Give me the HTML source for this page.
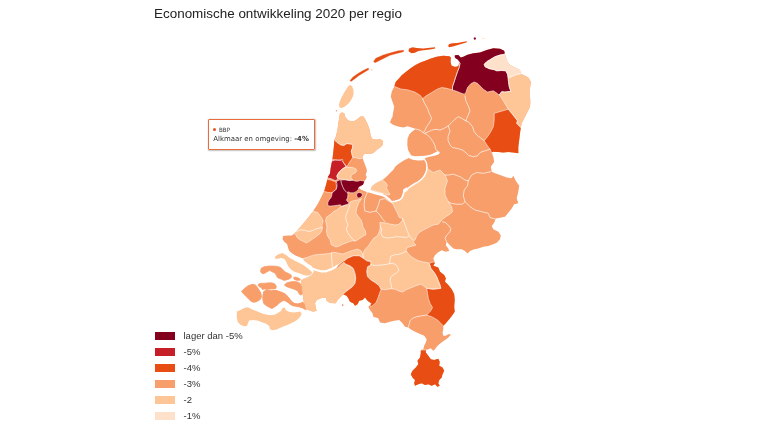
<!DOCTYPE html>
<html lang="nl"><head><meta charset="utf-8"><title>Economische ontwikkeling 2020 per regio</title>
<style>
html,body{margin:0;padding:0;background:#fff}
body{width:768px;height:432px;position:relative;overflow:hidden;font-family:"Liberation Sans",Arial,sans-serif;color:#333}
.title{position:absolute;left:154px;top:5.7px;font-size:13.45px;color:#222;white-space:nowrap;letter-spacing:0px}
.sw{position:absolute;left:155px;width:20px;height:8px}
.lt{position:absolute;left:183.5px;font-size:9.5px;line-height:13px;color:#333;white-space:nowrap}
.tip{position:absolute;left:208px;top:118.5px;width:104.8px;height:29.5px;border:1px solid #ea6c3b;border-radius:1px;background:rgba(255,255,255,.92);box-shadow:0.5px 0.5px 1.5px rgba(0,0,0,.25)}
.tip .h{position:absolute;left:4.4px;top:6px;font-size:5.7px;line-height:8px;color:#333;font-family:"DejaVu Sans","Liberation Sans",sans-serif;white-space:nowrap}
.tip .h i{display:inline-block;width:3px;height:3px;border-radius:50%;background:#e8501a;margin-right:2.5px;vertical-align:1px}
.tip .b{position:absolute;left:4.3px;top:14.9px;font-size:6.95px;line-height:10px;color:#333;font-family:"DejaVu Sans","Liberation Sans",sans-serif;white-space:nowrap}
</style></head><body>
<svg width="768" height="432" viewBox="0 0 768 432" style="position:absolute;left:0;top:0"><defs><clipPath id="land"><path d="M340.0 113.3 L342.3 112.6 L344.2 113.3 L345.4 117.2 L348.3 120.6 L351.8 121.6 L354.5 121.0 L357.8 118.8 L360.6 116.6 L363.5 116.6 L365.6 120.0 L367.5 124.0 L368.7 127.0 L370.0 131.0 L370.6 136.0 L372.5 139.1 L376.3 139.8 L380.0 139.1 L382.5 140.4 L383.1 143.5 L381.9 146.0 L379.4 147.9 L376.9 149.8 L374.4 152.3 L371.3 154.1 L368.1 154.1 L365.0 153.5 L363.1 155.4 L362.5 157.9 L363.8 161.6 L365.0 164.8 L366.5 168.5 L366.9 171.6 L365.6 174.8 L366.9 176.9 L365.6 179.4 L364.4 181.3 L363.1 184.4 L360.6 186.3 L358.8 187.5 L360.6 189.4 L365.0 191.3 L368.1 192.5 L371.0 189.5 L371.9 186.3 L375.0 183.8 L379.4 181.3 L383.1 179.4 L386.9 176.3 L390.0 173.1 L393.1 170.0 L395.6 166.3 L398.8 163.8 L402.5 161.3 L405.0 159.8 L407.5 158.8 L409.0 157.0 L410.6 154.4 L408.1 150.0 L407.3 145.0 L407.5 138.8 L409.4 134.2 L412.1 131.6 L415.8 129.0 L411.6 127.4 L407.5 126.2 L403.5 127.5 L398.0 126.6 L393.0 124.8 L390.0 122.5 L390.8 120.0 L392.5 116.7 L393.3 111.7 L394.2 106.7 L392.5 101.7 L390.8 96.7 L391.7 91.7 L394.2 86.7 L395.8 81.7 L399.2 78.3 L401.7 75.3 L406.4 71.4 L410.6 68.3 L415.5 65.0 L420.4 62.5 L425.3 60.7 L430.2 58.8 L436.7 56.7 L443.3 55.8 L449.2 56.2 L451.3 57.5 L450.8 60.0 L451.7 64.2 L453.3 65.8 L454.5 63.0 L454.2 59.0 L454.2 56.7 L455.0 55.3 L458.3 55.0 L460.8 57.5 L463.3 56.7 L467.5 54.7 L473.3 53.3 L480.0 52.5 L486.7 50.0 L493.3 48.3 L500.0 48.7 L504.2 50.8 L505.0 54.2 L505.8 57.5 L507.5 61.7 L510.0 65.0 L515.0 67.5 L520.0 70.0 L520.8 73.7 L528.3 77.5 L530.8 81.7 L530.0 88.3 L530.0 96.7 L530.3 101.7 L530.0 106.7 L527.5 111.7 L525.0 116.7 L521.7 123.3 L520.8 127.5 L520.0 133.3 L519.2 140.0 L518.3 146.7 L518.3 153.3 L513.3 152.5 L508.3 152.0 L503.3 152.5 L498.3 152.0 L493.3 151.7 L491.7 152.5 L493.3 156.7 L494.2 161.7 L490.8 166.7 L491.7 171.7 L495.0 173.3 L500.0 175.0 L506.7 177.5 L511.7 178.3 L513.3 175.8 L515.8 180.8 L519.2 185.8 L518.3 191.7 L516.7 198.3 L518.3 203.3 L514.2 204.3 L511.7 208.5 L508.3 212.7 L505.0 216.8 L500.0 217.7 L495.8 218.5 L494.2 222.7 L491.7 226.0 L493.3 229.3 L498.3 231.8 L500.8 235.2 L500.0 239.3 L496.7 242.7 L493.3 244.3 L488.3 246.0 L483.3 246.8 L478.3 248.5 L474.2 249.3 L470.0 251.0 L467.5 253.5 L465.0 251.0 L461.7 249.3 L456.7 249.3 L453.3 248.5 L450.0 245.2 L446.7 241.8 L445.8 245.2 L448.3 248.5 L449.2 251.0 L445.8 251.8 L441.7 250.2 L437.5 252.7 L435.0 255.2 L433.3 258.5 L435.0 262.7 L433.3 265.8 L438.3 267.5 L440.0 271.7 L444.2 275.0 L445.8 278.3 L445.0 281.7 L448.3 285.0 L451.7 289.2 L454.2 294.2 L454.7 300.0 L454.2 306.7 L454.7 311.7 L452.5 315.0 L449.2 319.2 L445.8 323.3 L443.3 325.8 L443.3 329.2 L442.5 332.5 L443.3 335.8 L445.8 335.8 L448.3 334.2 L450.8 334.2 L450.0 335.8 L447.5 338.3 L445.0 340.0 L442.5 341.7 L439.2 344.2 L436.7 346.7 L435.0 349.2 L433.3 350.8 L430.8 348.3 L428.3 349.2 L425.8 350.0 L425.8 352.5 L428.3 355.8 L430.8 359.2 L434.2 360.0 L438.3 358.7 L439.7 361.7 L439.2 365.8 L442.5 367.5 L444.2 370.8 L442.5 374.2 L441.7 377.5 L439.2 380.0 L438.3 383.3 L439.7 385.8 L437.5 386.7 L435.0 384.2 L431.7 385.8 L428.3 384.2 L425.0 385.0 L421.7 383.3 L418.3 384.2 L415.0 385.8 L414.2 383.3 L415.0 380.0 L412.5 377.5 L410.8 374.2 L412.5 370.8 L415.8 367.5 L418.3 364.2 L417.5 360.8 L420.0 357.5 L420.8 353.3 L420.8 350.0 L423.3 349.2 L424.2 345.8 L425.8 342.5 L426.7 339.2 L424.2 335.8 L420.8 334.2 L416.7 332.5 L411.7 330.0 L408.3 327.5 L405.0 326.7 L402.5 323.3 L399.2 320.0 L394.2 320.8 L390.0 321.7 L385.0 323.3 L380.0 322.5 L378.3 318.3 L373.3 316.7 L372.5 313.3 L370.0 310.0 L368.3 306.7 L371.7 303.8 L367.5 300.8 L365.0 297.5 L362.5 300.0 L359.2 300.8 L357.5 304.2 L355.0 305.8 L353.3 303.3 L350.0 301.7 L348.3 298.3 L346.7 295.8 L343.3 294.5 L340.0 297.5 L337.5 300.0 L335.8 303.3 L330.0 303.0 L326.7 300.8 L325.8 297.5 L320.8 298.3 L316.7 300.0 L315.0 303.3 L315.8 308.3 L316.7 310.8 L313.3 311.7 L308.3 310.0 L305.0 309.2 L304.4 305.0 L303.5 300.0 L302.7 295.0 L301.9 290.0 L301.2 285.0 L300.8 281.0 L303.0 279.0 L308.0 277.0 L312.0 274.5 L314.0 272.0 L313.0 268.0 L311.3 265.6 L308.0 263.5 L304.7 261.0 L303.0 258.5 L299.7 257.3 L295.5 255.6 L292.2 253.5 L289.3 251.0 L288.0 247.7 L287.2 244.3 L284.3 241.8 L282.6 239.3 L283.0 236.0 L288.0 235.5 L291.9 235.4 L296.3 231.6 L302.3 224.8 L308.5 217.3 L313.2 211.0 L318.0 203.5 L321.8 196.0 L324.3 190.8 L326.5 183.0 L328.1 176.6 L330.0 173.5 L330.6 168.5 L331.5 163.5 L332.5 159.1 L333.1 153.5 L333.8 147.3 L334.4 139.8 L335.8 136.7 L337.5 130.0 L338.3 123.3 L339.2 118.3Z"/></clipPath></defs><path d="M340.0 113.3 L342.3 112.6 L344.2 113.3 L345.4 117.2 L348.3 120.6 L351.8 121.6 L354.5 121.0 L357.8 118.8 L360.6 116.6 L363.5 116.6 L365.6 120.0 L367.5 124.0 L368.7 127.0 L370.0 131.0 L370.6 136.0 L372.5 139.1 L376.3 139.8 L380.0 139.1 L382.5 140.4 L383.1 143.5 L381.9 146.0 L379.4 147.9 L376.9 149.8 L374.4 152.3 L371.3 154.1 L368.1 154.1 L365.0 153.5 L363.1 155.4 L362.5 157.9 L363.8 161.6 L365.0 164.8 L366.5 168.5 L366.9 171.6 L365.6 174.8 L366.9 176.9 L365.6 179.4 L364.4 181.3 L363.1 184.4 L360.6 186.3 L358.8 187.5 L360.6 189.4 L365.0 191.3 L368.1 192.5 L371.0 189.5 L371.9 186.3 L375.0 183.8 L379.4 181.3 L383.1 179.4 L386.9 176.3 L390.0 173.1 L393.1 170.0 L395.6 166.3 L398.8 163.8 L402.5 161.3 L405.0 159.8 L407.5 158.8 L409.0 157.0 L410.6 154.4 L408.1 150.0 L407.3 145.0 L407.5 138.8 L409.4 134.2 L412.1 131.6 L415.8 129.0 L411.6 127.4 L407.5 126.2 L403.5 127.5 L398.0 126.6 L393.0 124.8 L390.0 122.5 L390.8 120.0 L392.5 116.7 L393.3 111.7 L394.2 106.7 L392.5 101.7 L390.8 96.7 L391.7 91.7 L394.2 86.7 L395.8 81.7 L399.2 78.3 L401.7 75.3 L406.4 71.4 L410.6 68.3 L415.5 65.0 L420.4 62.5 L425.3 60.7 L430.2 58.8 L436.7 56.7 L443.3 55.8 L449.2 56.2 L451.3 57.5 L450.8 60.0 L451.7 64.2 L453.3 65.8 L454.5 63.0 L454.2 59.0 L454.2 56.7 L455.0 55.3 L458.3 55.0 L460.8 57.5 L463.3 56.7 L467.5 54.7 L473.3 53.3 L480.0 52.5 L486.7 50.0 L493.3 48.3 L500.0 48.7 L504.2 50.8 L505.0 54.2 L505.8 57.5 L507.5 61.7 L510.0 65.0 L515.0 67.5 L520.0 70.0 L520.8 73.7 L528.3 77.5 L530.8 81.7 L530.0 88.3 L530.0 96.7 L530.3 101.7 L530.0 106.7 L527.5 111.7 L525.0 116.7 L521.7 123.3 L520.8 127.5 L520.0 133.3 L519.2 140.0 L518.3 146.7 L518.3 153.3 L513.3 152.5 L508.3 152.0 L503.3 152.5 L498.3 152.0 L493.3 151.7 L491.7 152.5 L493.3 156.7 L494.2 161.7 L490.8 166.7 L491.7 171.7 L495.0 173.3 L500.0 175.0 L506.7 177.5 L511.7 178.3 L513.3 175.8 L515.8 180.8 L519.2 185.8 L518.3 191.7 L516.7 198.3 L518.3 203.3 L514.2 204.3 L511.7 208.5 L508.3 212.7 L505.0 216.8 L500.0 217.7 L495.8 218.5 L494.2 222.7 L491.7 226.0 L493.3 229.3 L498.3 231.8 L500.8 235.2 L500.0 239.3 L496.7 242.7 L493.3 244.3 L488.3 246.0 L483.3 246.8 L478.3 248.5 L474.2 249.3 L470.0 251.0 L467.5 253.5 L465.0 251.0 L461.7 249.3 L456.7 249.3 L453.3 248.5 L450.0 245.2 L446.7 241.8 L445.8 245.2 L448.3 248.5 L449.2 251.0 L445.8 251.8 L441.7 250.2 L437.5 252.7 L435.0 255.2 L433.3 258.5 L435.0 262.7 L433.3 265.8 L438.3 267.5 L440.0 271.7 L444.2 275.0 L445.8 278.3 L445.0 281.7 L448.3 285.0 L451.7 289.2 L454.2 294.2 L454.7 300.0 L454.2 306.7 L454.7 311.7 L452.5 315.0 L449.2 319.2 L445.8 323.3 L443.3 325.8 L443.3 329.2 L442.5 332.5 L443.3 335.8 L445.8 335.8 L448.3 334.2 L450.8 334.2 L450.0 335.8 L447.5 338.3 L445.0 340.0 L442.5 341.7 L439.2 344.2 L436.7 346.7 L435.0 349.2 L433.3 350.8 L430.8 348.3 L428.3 349.2 L425.8 350.0 L425.8 352.5 L428.3 355.8 L430.8 359.2 L434.2 360.0 L438.3 358.7 L439.7 361.7 L439.2 365.8 L442.5 367.5 L444.2 370.8 L442.5 374.2 L441.7 377.5 L439.2 380.0 L438.3 383.3 L439.7 385.8 L437.5 386.7 L435.0 384.2 L431.7 385.8 L428.3 384.2 L425.0 385.0 L421.7 383.3 L418.3 384.2 L415.0 385.8 L414.2 383.3 L415.0 380.0 L412.5 377.5 L410.8 374.2 L412.5 370.8 L415.8 367.5 L418.3 364.2 L417.5 360.8 L420.0 357.5 L420.8 353.3 L420.8 350.0 L423.3 349.2 L424.2 345.8 L425.8 342.5 L426.7 339.2 L424.2 335.8 L420.8 334.2 L416.7 332.5 L411.7 330.0 L408.3 327.5 L405.0 326.7 L402.5 323.3 L399.2 320.0 L394.2 320.8 L390.0 321.7 L385.0 323.3 L380.0 322.5 L378.3 318.3 L373.3 316.7 L372.5 313.3 L370.0 310.0 L368.3 306.7 L371.7 303.8 L367.5 300.8 L365.0 297.5 L362.5 300.0 L359.2 300.8 L357.5 304.2 L355.0 305.8 L353.3 303.3 L350.0 301.7 L348.3 298.3 L346.7 295.8 L343.3 294.5 L340.0 297.5 L337.5 300.0 L335.8 303.3 L330.0 303.0 L326.7 300.8 L325.8 297.5 L320.8 298.3 L316.7 300.0 L315.0 303.3 L315.8 308.3 L316.7 310.8 L313.3 311.7 L308.3 310.0 L305.0 309.2 L304.4 305.0 L303.5 300.0 L302.7 295.0 L301.9 290.0 L301.2 285.0 L300.8 281.0 L303.0 279.0 L308.0 277.0 L312.0 274.5 L314.0 272.0 L313.0 268.0 L311.3 265.6 L308.0 263.5 L304.7 261.0 L303.0 258.5 L299.7 257.3 L295.5 255.6 L292.2 253.5 L289.3 251.0 L288.0 247.7 L287.2 244.3 L284.3 241.8 L282.6 239.3 L283.0 236.0 L288.0 235.5 L291.9 235.4 L296.3 231.6 L302.3 224.8 L308.5 217.3 L313.2 211.0 L318.0 203.5 L321.8 196.0 L324.3 190.8 L326.5 183.0 L328.1 176.6 L330.0 173.5 L330.6 168.5 L331.5 163.5 L332.5 159.1 L333.1 153.5 L333.8 147.3 L334.4 139.8 L335.8 136.7 L337.5 130.0 L338.3 123.3 L339.2 118.3Z" fill="#f79e6b"/><g clip-path="url(#land)"><path d="M390.0 86.0 L393.9 86.2 L400.8 89.0 L407.8 89.9 L414.7 92.0 L420.3 95.4 L422.6 98.7 L425.8 96.1 L431.4 92.7 L436.7 89.4 L441.7 87.5 L446.7 88.3 L452.5 90.0 L452.5 86.7 L454.2 81.7 L455.8 76.7 L457.5 71.7 L459.2 67.5 L460.0 63.3 L458.3 60.8 L455.0 59.2 L453.0 50.0 L440.0 48.0 L400.0 60.0 L388.0 80.0Z" fill="#e84e13"/><path d="M455.0 52.0 L458.3 52.0 L460.8 53.5 L463.3 52.7 L467.5 50.7 L473.3 49.3 L480.0 48.5 L486.7 46.0 L493.3 44.3 L500.0 44.7 L506.0 47.0 L505.0 54.2 L500.0 55.0 L495.0 56.7 L490.8 59.2 L486.7 61.7 L484.2 64.2 L485.0 66.7 L489.2 68.7 L494.2 69.7 L496.7 70.8 L501.7 70.5 L505.8 70.8 L507.5 74.2 L508.3 80.0 L509.2 86.7 L510.8 91.3 L505.0 92.0 L501.7 91.7 L499.2 95.0 L496.7 93.0 L493.3 90.8 L487.5 92.0 L483.3 89.2 L480.0 85.8 L477.5 83.3 L474.2 82.0 L470.8 83.7 L467.5 87.5 L465.8 92.5 L464.2 94.2 L460.8 93.0 L456.7 91.3 L452.5 90.0 L452.5 86.7 L454.2 81.7 L455.8 76.7 L457.5 71.7 L459.2 67.5 L460.0 63.3 L458.3 60.8 L455.0 59.2 L453.5 56.7Z" fill="#84001f"/><path d="M505.0 54.2 L500.0 55.0 L495.0 56.7 L490.8 59.2 L486.7 61.7 L484.2 64.2 L485.0 66.7 L489.2 68.7 L494.2 69.7 L496.7 70.8 L501.7 70.5 L505.8 70.8 L507.5 74.2 L508.3 78.0 L511.0 77.0 L515.0 75.0 L520.8 73.7 L526.0 70.0 L515.0 58.0 L508.0 48.0Z" fill="#fee1ca"/><path d="M508.3 78.0 L508.3 80.0 L509.2 86.7 L510.8 91.3 L505.0 92.0 L501.7 91.7 L499.2 95.0 L500.8 96.7 L503.3 100.8 L505.8 105.0 L508.3 109.2 L511.7 113.3 L515.0 117.5 L517.5 120.8 L516.7 123.3 L520.8 127.5 L536.0 128.0 L536.0 72.0 L520.8 73.7 L515.0 75.0 L511.0 77.0Z" fill="#fec596"/><path d="M494.2 113.3 L508.3 109.2 L511.7 113.3 L515.0 117.5 L517.5 120.8 L516.7 123.3 L520.8 127.5 L525.0 127.5 L523.0 157.0 L493.3 156.0 L490.0 149.2 L487.5 145.8 L484.2 140.8 L487.5 136.7 L490.8 131.7 L493.3 126.7 L494.2 120.0Z" fill="#e84e13"/><path d="M330.0 139.8 L334.4 139.8 L336.9 142.3 L340.6 144.8 L343.8 145.4 L346.9 143.5 L351.3 144.1 L352.8 145.4 L352.3 148.5 L351.3 151.0 L351.9 154.1 L352.8 157.3 L356.3 157.9 L360.0 158.8 L362.5 157.9 L366.0 157.0 L390.0 145.0 L375.0 110.0 L338.0 108.0 L330.0 120.0Z" fill="#fec596"/><path d="M328.0 139.8 L334.4 139.8 L336.9 142.3 L340.6 144.8 L343.8 145.4 L346.9 143.5 L351.3 144.1 L352.8 145.4 L352.3 148.5 L351.3 151.0 L351.9 154.1 L352.8 157.3 L351.3 159.8 L349.4 162.3 L348.1 164.8 L346.9 166.6 L345.0 164.8 L343.1 162.3 L341.3 160.4 L337.5 160.4 L334.4 159.8 L328.0 159.1Z" fill="#e84e13"/><path d="M326.0 160.5 L332.2 161.0 L335.5 159.8 L339.7 159.8 L342.6 159.3 L343.0 161.8 L344.7 164.3 L345.9 166.8 L343.0 168.5 L340.5 170.6 L338.4 173.1 L336.8 176.0 L337.6 178.5 L336.3 180.6 L334.3 180.2 L331.8 178.9 L328.8 178.1 L324.0 178.0Z" fill="#c71f27"/><path d="M321.0 178.0 L327.4 179.3 L331.2 180.2 L334.9 181.4 L337.0 183.5 L337.0 186.8 L336.2 189.3 L334.5 191.0 L332.8 192.3 L330.8 192.7 L327.4 192.3 L324.5 191.4 L320.0 191.0Z" fill="#e84e13"/><path d="M343.0 168.5 L345.9 166.8 L349.7 167.3 L353.0 167.7 L355.5 168.5 L356.8 170.6 L355.5 172.7 L353.0 173.9 L351.3 175.6 L350.9 177.7 L353.0 180.2 L350.9 180.6 L347.2 180.2 L343.0 179.3 L339.3 178.5 L337.6 178.1 L336.8 176.0 L338.4 173.1 L340.5 170.6Z" fill="#fec596"/><path d="M368.0 188.0 L371.9 186.0 L376.3 182.5 L382.5 180.0 L385.6 182.5 L387.5 185.6 L386.3 187.5 L388.1 191.3 L390.0 194.4 L387.5 195.0 L382.5 193.1 L377.5 191.9 L373.1 190.0 L370.0 191.0Z" fill="#fec596"/><path d="M420.8 350.0 L425.8 350.0 L430.0 352.0 L446.0 360.0 L446.0 388.0 L408.0 388.0 L408.0 365.0 L417.0 356.0Z" fill="#e84e13"/><path d="M298.0 279.0 L303.0 279.0 L308.0 277.0 L312.0 274.5 L311.0 268.1 L316.0 270.0 L321.0 271.3 L326.0 271.3 L331.0 269.4 L334.8 267.5 L338.0 265.0 L343.3 261.7 L345.8 264.2 L350.0 265.8 L353.3 268.3 L355.0 273.3 L355.8 278.3 L355.0 283.3 L352.5 286.7 L349.2 289.2 L345.8 291.7 L343.3 294.2 L343.3 298.0 L335.0 306.0 L320.0 312.0 L303.0 312.0 L302.0 295.0Z" fill="#fec596"/><path d="M427.0 167.0 L426.7 168.3 L433.3 172.5 L440.0 170.0 L445.0 175.0 L447.5 180.8 L445.0 188.3 L445.0 195.0 L448.3 201.7 L451.7 206.7 L452.5 211.7 L450.0 214.2 L445.8 216.7 L441.7 220.0 L438.3 224.2 L433.3 225.0 L428.3 227.5 L423.3 230.0 L419.2 232.5 L416.6 235.8 L415.4 239.5 L412.9 242.0 L416.0 245.1 L411.0 246.4 L407.3 247.6 L406.0 250.1 L407.9 253.3 L411.0 256.4 L414.8 258.9 L418.5 260.8 L423.5 262.0 L427.5 262.5 L429.2 263.3 L430.8 268.3 L434.2 272.5 L436.7 276.7 L438.3 280.8 L440.0 285.0 L440.8 288.3 L433.3 289.2 L426.7 288.3 L423.3 285.8 L420.8 284.2 L415.8 285.8 L411.7 287.5 L406.7 289.5 L402.5 292.0 L399.2 291.2 L395.8 289.5 L391.7 288.7 L385.0 289.7 L380.8 289.2 L379.2 285.8 L375.0 282.5 L370.8 280.0 L367.5 276.7 L366.7 271.7 L367.5 266.7 L370.8 265.0 L370.8 261.7 L366.7 260.8 L363.3 258.3 L362.9 255.1 L363.5 252.0 L365.4 248.9 L368.5 245.8 L371.0 242.0 L373.5 238.3 L377.3 235.8 L379.1 232.0 L380.4 227.0 L379.8 222.3 L385.8 223.0 L390.0 224.0 L395.0 225.0 L398.3 224.5 L400.3 222.8 L402.2 220.5 L402.5 218.3 L399.2 217.5 L397.5 213.3 L395.0 208.3 L392.5 203.3 L394.0 201.5 L398.0 200.5 L401.5 198.0 L403.0 194.5 L406.0 190.0 L410.0 187.5 L414.0 185.0 L418.5 182.5 L422.0 179.5 L424.5 175.5 L426.5 171.0Z" fill="#fec596"/><path d="M302.0 212.0 L310.0 212.3 L313.8 211.6 L317.5 212.3 L321.3 217.3 L323.1 221.0 L321.9 225.4 L322.5 227.9 L321.9 230.4 L320.0 233.5 L316.3 236.6 L312.5 239.1 L308.8 241.6 L306.3 242.9 L303.8 241.6 L300.0 239.8 L296.9 237.3 L295.6 234.1 L290.0 233.0Z" fill="#fec596"/><path d="M326.3 217.3 L330.0 214.8 L333.5 211.5 L337.3 209.8 L339.8 207.3 L342.9 206.0 L346.0 204.8 L349.0 203.5 L351.0 201.6 L354.8 200.4 L358.5 199.8 L361.6 198.5 L358.5 203.5 L356.6 208.5 L356.0 212.9 L357.9 216.0 L361.0 219.8 L362.3 223.5 L362.9 227.0 L365.4 230.8 L366.0 234.5 L362.9 236.4 L359.1 238.9 L356.0 240.8 L352.3 240.8 L348.5 242.0 L343.5 243.9 L339.8 245.8 L336.0 247.0 L331.3 244.8 L330.0 239.8 L327.5 236.0 L326.3 231.0 L327.0 227.0 L325.6 221.0Z" fill="#fec596"/><path d="M302.0 262.0 L303.0 258.5 L307.5 257.3 L312.5 255.4 L317.5 254.5 L323.8 254.1 L328.8 253.5 L333.8 252.3 L337.5 252.9 L342.5 254.1 L347.5 252.3 L352.5 250.4 L357.5 249.1 L361.3 251.0 L363.1 255.4 L363.3 258.3 L359.2 255.8 L353.3 255.8 L347.5 258.3 L343.3 261.7 L338.0 265.0 L334.8 267.5 L331.0 269.4 L326.0 271.3 L321.0 271.3 L316.0 270.0 L311.0 268.1 L306.0 270.0Z" fill="#fec596"/><path d="M336.9 181.2 L336.1 183.3 L336.1 183.4 L336.1 183.4 L336.1 183.5 L336.1 183.5 L336.1 183.6 L336.5 186.0 L336.1 189.1 L334.6 190.6 L332.5 191.9 L332.5 191.9 L332.5 191.9 L332.4 192.0 L332.4 192.0 L332.4 192.0 L332.3 192.1 L332.3 192.1 L332.3 192.2 L332.3 192.2 L331.9 194.7 L331.1 197.5 L329.1 199.9 L329.1 199.9 L329.1 199.9 L329.0 200.0 L327.8 202.5 L327.8 202.5 L327.8 202.6 L327.8 202.6 L327.8 202.7 L327.8 202.7 L327.8 205.2 L327.8 205.2 L327.8 205.3 L327.8 205.3 L327.8 205.4 L327.9 205.4 L327.9 205.5 L327.9 205.5 L327.9 205.6 L328.0 205.6 L328.0 205.6 L328.1 205.6 L328.1 205.7 L328.2 205.7 L328.2 205.7 L330.2 206.1 L330.3 206.1 L330.3 206.1 L330.4 206.1 L333.8 205.7 L333.8 205.7 L337.1 205.3 L337.1 205.3 L340.2 204.8 L341.7 206.0 L341.7 206.0 L341.8 206.0 L341.8 206.1 L341.9 206.1 L341.9 206.1 L342.0 206.1 L342.0 206.1 L342.1 206.1 L342.1 206.1 L342.2 206.1 L344.6 205.3 L347.1 204.8 L347.1 204.8 L347.2 204.8 L347.2 204.7 L347.3 204.7 L349.0 203.5 L349.0 203.5 L349.1 203.4 L349.1 203.4 L349.1 203.4 L349.1 203.3 L349.2 203.3 L349.2 203.2 L349.2 203.2 L349.2 203.1 L349.2 203.1 L349.2 203.0 L349.2 203.0 L349.2 202.9 L349.2 202.9 L349.1 202.9 L349.1 202.8 L349.1 202.8 L349.0 202.7 L349.0 202.7 L347.4 201.4 L346.4 200.1 L347.5 197.9 L347.5 197.9 L347.5 197.8 L347.5 197.8 L347.9 194.4 L347.9 194.3 L347.9 194.3 L347.9 194.2 L347.9 194.2 L347.9 194.1 L347.2 192.3 L348.7 191.9 L350.6 192.8 L350.7 192.8 L350.7 192.8 L350.7 192.8 L350.8 192.8 L353.7 192.8 L353.7 192.8 L353.8 192.8 L353.8 192.8 L353.9 192.8 L353.9 192.7 L356.4 191.4 L356.5 191.4 L356.5 191.4 L356.6 191.3 L358.2 189.6 L358.2 189.6 L358.2 189.6 L358.3 189.5 L358.3 189.5 L358.3 189.4 L358.7 187.6 L360.1 186.4 L362.6 185.7 L362.6 185.7 L362.6 185.6 L362.7 185.6 L362.7 185.6 L362.8 185.6 L362.8 185.5 L364.5 183.4 L364.5 183.4 L364.5 183.3 L364.6 183.3 L364.6 183.2 L364.6 183.2 L364.6 183.1 L364.6 183.1 L364.6 183.0 L364.6 183.0 L364.2 181.3 L364.2 181.2 L364.2 181.2 L364.1 181.1 L364.1 181.1 L364.1 181.1 L364.0 181.0 L364.0 181.0 L364.0 181.0 L363.9 180.9 L363.9 180.9 L363.8 180.9 L363.8 180.9 L360.4 180.5 L360.3 180.5 L360.3 180.5 L360.2 180.5 L360.2 180.5 L357.4 181.3 L354.6 180.9 L352.2 180.1 L352.1 180.1 L352.1 180.1 L352.0 180.1 L352.0 180.1 L351.9 180.1 L349.5 180.5 L345.4 179.7 L345.3 179.7 L345.3 179.7 L345.2 179.7 L341.6 180.1 L340.4 179.7 L340.4 179.7 L340.4 179.7 L340.3 179.7 L340.3 179.7 L340.2 179.7 L340.2 179.7 L340.1 179.7 L337.2 180.9 L337.2 181.0 L337.1 181.0 L337.1 181.0 L337.0 181.1 L337.0 181.1 L337.0 181.1 L337.0 181.2Z" fill="#84001f"/><path d="M356.7 193.9 L356.7 196.0 L356.7 196.0 L356.7 196.1 L356.7 196.1 L356.7 196.1 L356.7 196.1 L356.7 196.2 L356.8 196.2 L358.1 197.9 L358.1 197.9 L358.1 197.9 L358.1 197.9 L358.2 198.0 L358.2 198.0 L358.2 198.0 L358.2 198.0 L358.3 198.0 L358.3 198.0 L358.3 198.0 L358.4 198.0 L360.4 197.6 L360.4 197.6 L360.4 197.6 L360.4 197.6 L360.5 197.5 L360.5 197.5 L360.5 197.5 L360.5 197.5 L362.2 195.4 L362.3 195.4 L362.3 195.3 L362.3 195.3 L362.3 195.3 L362.3 195.3 L362.3 195.2 L362.3 195.2 L362.3 195.2 L362.3 195.1 L361.9 193.4 L361.9 193.4 L361.9 193.4 L361.9 193.3 L361.8 193.3 L361.8 193.3 L361.8 193.3 L361.8 193.3 L361.7 193.2 L361.7 193.2 L361.7 193.2 L359.2 192.4 L359.2 192.4 L359.1 192.4 L359.1 192.4 L359.1 192.4 L359.0 192.4 L359.0 192.4 L359.0 192.4 L359.0 192.4 L356.9 193.6 L356.8 193.7 L356.8 193.7 L356.8 193.7 L356.8 193.7 L356.7 193.7 L356.7 193.8 L356.7 193.8 L356.7 193.8 L356.7 193.8 L356.7 193.9Z" fill="#84001f"/><path d="M343.1 261.9 L345.6 264.4 L345.6 264.4 L345.6 264.5 L345.7 264.5 L345.7 264.5 L349.9 266.1 L353.0 268.5 L354.7 273.4 L355.5 278.3 L354.7 283.2 L352.3 286.5 L349.0 289.0 L345.6 291.5 L345.6 291.5 L345.6 291.5 L343.1 294.0 L343.1 294.0 L343.1 294.0 L343.0 294.1 L343.0 294.1 L343.0 294.1 L343.0 294.1 L343.0 294.2 L343.0 294.2 L343.0 297.0 L343.0 297.0 L343.0 297.1 L343.0 297.1 L343.0 297.1 L343.0 297.1 L343.0 297.2 L343.1 297.2 L343.1 297.2 L354.8 309.2 L354.8 309.2 L354.8 309.2 L354.9 309.3 L354.9 309.3 L354.9 309.3 L354.9 309.3 L355.0 309.3 L355.0 309.3 L355.0 309.3 L355.1 309.3 L355.1 309.3 L355.1 309.3 L355.1 309.3 L355.2 309.2 L362.6 304.3 L365.0 303.3 L371.6 306.3 L371.6 306.3 L371.6 306.3 L371.7 306.3 L371.7 306.3 L371.7 306.3 L371.8 306.3 L371.8 306.3 L371.8 306.3 L371.8 306.3 L371.9 306.2 L371.9 306.2 L376.0 302.7 L376.0 302.7 L376.0 302.7 L376.1 302.7 L376.1 302.6 L376.1 302.6 L377.8 298.4 L377.8 298.4 L379.5 293.4 L381.1 289.3 L381.1 289.3 L381.1 289.3 L381.1 289.2 L381.1 289.2 L381.1 289.2 L381.1 289.1 L381.1 289.1 L381.1 289.1 L379.5 285.7 L379.5 285.6 L379.4 285.6 L379.4 285.6 L379.4 285.6 L379.4 285.6 L375.2 282.3 L375.2 282.2 L371.0 279.8 L367.8 276.6 L367.0 271.7 L367.8 266.9 L370.9 265.3 L371.0 265.3 L371.0 265.2 L371.0 265.2 L371.0 265.2 L371.0 265.2 L371.1 265.1 L371.1 265.1 L371.1 265.1 L371.1 265.1 L371.1 265.0 L371.1 265.0 L371.1 261.7 L371.1 261.7 L371.1 261.6 L371.1 261.6 L371.1 261.6 L371.1 261.6 L371.1 261.5 L371.0 261.5 L371.0 261.5 L371.0 261.5 L371.0 261.5 L370.9 261.4 L370.9 261.4 L370.9 261.4 L370.9 261.4 L366.8 260.5 L363.5 258.1 L363.5 258.0 L359.4 255.5 L359.3 255.5 L359.3 255.5 L359.3 255.5 L359.3 255.5 L359.2 255.5 L359.2 255.5 L353.3 255.5 L353.3 255.5 L353.2 255.5 L353.2 255.5 L353.2 255.5 L347.4 258.0 L347.4 258.0 L347.3 258.1 L347.3 258.1 L343.1 261.5 L343.1 261.5 L343.1 261.5 L343.1 261.5 L343.0 261.6 L343.0 261.6 L343.0 261.6 L343.0 261.6 L343.0 261.7 L343.0 261.7 L343.0 261.7 L343.0 261.8 L343.0 261.8 L343.0 261.8 L343.0 261.8 L343.1 261.9 L343.1 261.9Z" fill="#e84e13"/><path d="M429.2 263.3 L430.8 268.3 L434.2 272.5 L436.7 276.7 L438.3 280.8 L440.0 285.0 L440.8 288.3 L433.3 289.2 L426.7 288.3 L427.5 293.3 L428.3 298.3 L430.0 303.3 L432.5 307.5 L430.8 310.8 L427.5 314.2 L426.7 315.0 L431.7 316.7 L437.5 320.0 L441.7 324.2 L443.3 325.8 L448.0 328.0 L460.0 315.0 L460.0 285.0 L445.0 265.0 L433.0 262.0Z" fill="#e84e13"/><path d="M390.0 86.0 L393.9 86.2 L400.8 89.0 L407.8 89.9 L414.7 92.0 L420.3 95.4 L422.6 98.7 L425.8 96.1 L431.4 92.7 L436.7 89.4 L441.7 87.5 L446.7 88.3 L452.5 90.0 L452.5 86.7 L454.2 81.7 L455.8 76.7 L457.5 71.7 L459.2 67.5 L460.0 63.3 L458.3 60.8 L455.0 59.2 L453.0 50.0 L440.0 48.0 L400.0 60.0 L388.0 80.0Z" fill="none" stroke="#fff" stroke-opacity="0.65" stroke-width="0.8" stroke-linejoin="round"/><path d="M455.0 52.0 L458.3 52.0 L460.8 53.5 L463.3 52.7 L467.5 50.7 L473.3 49.3 L480.0 48.5 L486.7 46.0 L493.3 44.3 L500.0 44.7 L506.0 47.0 L505.0 54.2 L500.0 55.0 L495.0 56.7 L490.8 59.2 L486.7 61.7 L484.2 64.2 L485.0 66.7 L489.2 68.7 L494.2 69.7 L496.7 70.8 L501.7 70.5 L505.8 70.8 L507.5 74.2 L508.3 80.0 L509.2 86.7 L510.8 91.3 L505.0 92.0 L501.7 91.7 L499.2 95.0 L496.7 93.0 L493.3 90.8 L487.5 92.0 L483.3 89.2 L480.0 85.8 L477.5 83.3 L474.2 82.0 L470.8 83.7 L467.5 87.5 L465.8 92.5 L464.2 94.2 L460.8 93.0 L456.7 91.3 L452.5 90.0 L452.5 86.7 L454.2 81.7 L455.8 76.7 L457.5 71.7 L459.2 67.5 L460.0 63.3 L458.3 60.8 L455.0 59.2 L453.5 56.7Z" fill="none" stroke="#fff" stroke-opacity="0.65" stroke-width="0.8" stroke-linejoin="round"/><path d="M505.0 54.2 L500.0 55.0 L495.0 56.7 L490.8 59.2 L486.7 61.7 L484.2 64.2 L485.0 66.7 L489.2 68.7 L494.2 69.7 L496.7 70.8 L501.7 70.5 L505.8 70.8 L507.5 74.2 L508.3 78.0 L511.0 77.0 L515.0 75.0 L520.8 73.7 L526.0 70.0 L515.0 58.0 L508.0 48.0Z" fill="none" stroke="#fff" stroke-opacity="0.65" stroke-width="0.8" stroke-linejoin="round"/><path d="M508.3 78.0 L508.3 80.0 L509.2 86.7 L510.8 91.3 L505.0 92.0 L501.7 91.7 L499.2 95.0 L500.8 96.7 L503.3 100.8 L505.8 105.0 L508.3 109.2 L511.7 113.3 L515.0 117.5 L517.5 120.8 L516.7 123.3 L520.8 127.5 L536.0 128.0 L536.0 72.0 L520.8 73.7 L515.0 75.0 L511.0 77.0Z" fill="none" stroke="#fff" stroke-opacity="0.65" stroke-width="0.8" stroke-linejoin="round"/><path d="M494.2 113.3 L508.3 109.2 L511.7 113.3 L515.0 117.5 L517.5 120.8 L516.7 123.3 L520.8 127.5 L525.0 127.5 L523.0 157.0 L493.3 156.0 L490.0 149.2 L487.5 145.8 L484.2 140.8 L487.5 136.7 L490.8 131.7 L493.3 126.7 L494.2 120.0Z" fill="none" stroke="#fff" stroke-opacity="0.65" stroke-width="0.8" stroke-linejoin="round"/><path d="M330.0 139.8 L334.4 139.8 L336.9 142.3 L340.6 144.8 L343.8 145.4 L346.9 143.5 L351.3 144.1 L352.8 145.4 L352.3 148.5 L351.3 151.0 L351.9 154.1 L352.8 157.3 L356.3 157.9 L360.0 158.8 L362.5 157.9 L366.0 157.0 L390.0 145.0 L375.0 110.0 L338.0 108.0 L330.0 120.0Z" fill="none" stroke="#fff" stroke-opacity="0.65" stroke-width="0.8" stroke-linejoin="round"/><path d="M328.0 139.8 L334.4 139.8 L336.9 142.3 L340.6 144.8 L343.8 145.4 L346.9 143.5 L351.3 144.1 L352.8 145.4 L352.3 148.5 L351.3 151.0 L351.9 154.1 L352.8 157.3 L351.3 159.8 L349.4 162.3 L348.1 164.8 L346.9 166.6 L345.0 164.8 L343.1 162.3 L341.3 160.4 L337.5 160.4 L334.4 159.8 L328.0 159.1Z" fill="none" stroke="#fff" stroke-opacity="0.65" stroke-width="0.8" stroke-linejoin="round"/><path d="M326.0 160.5 L332.2 161.0 L335.5 159.8 L339.7 159.8 L342.6 159.3 L343.0 161.8 L344.7 164.3 L345.9 166.8 L343.0 168.5 L340.5 170.6 L338.4 173.1 L336.8 176.0 L337.6 178.5 L336.3 180.6 L334.3 180.2 L331.8 178.9 L328.8 178.1 L324.0 178.0Z" fill="none" stroke="#fff" stroke-opacity="0.65" stroke-width="0.8" stroke-linejoin="round"/><path d="M321.0 178.0 L327.4 179.3 L331.2 180.2 L334.9 181.4 L337.0 183.5 L337.0 186.8 L336.2 189.3 L334.5 191.0 L332.8 192.3 L330.8 192.7 L327.4 192.3 L324.5 191.4 L320.0 191.0Z" fill="none" stroke="#fff" stroke-opacity="0.65" stroke-width="0.8" stroke-linejoin="round"/><path d="M343.0 168.5 L345.9 166.8 L349.7 167.3 L353.0 167.7 L355.5 168.5 L356.8 170.6 L355.5 172.7 L353.0 173.9 L351.3 175.6 L350.9 177.7 L353.0 180.2 L350.9 180.6 L347.2 180.2 L343.0 179.3 L339.3 178.5 L337.6 178.1 L336.8 176.0 L338.4 173.1 L340.5 170.6Z" fill="none" stroke="#fff" stroke-opacity="0.65" stroke-width="0.8" stroke-linejoin="round"/><path d="M368.0 188.0 L371.9 186.0 L376.3 182.5 L382.5 180.0 L385.6 182.5 L387.5 185.6 L386.3 187.5 L388.1 191.3 L390.0 194.4 L387.5 195.0 L382.5 193.1 L377.5 191.9 L373.1 190.0 L370.0 191.0Z" fill="none" stroke="#fff" stroke-opacity="0.65" stroke-width="0.8" stroke-linejoin="round"/><path d="M420.8 350.0 L425.8 350.0 L430.0 352.0 L446.0 360.0 L446.0 388.0 L408.0 388.0 L408.0 365.0 L417.0 356.0Z" fill="none" stroke="#fff" stroke-opacity="0.65" stroke-width="0.8" stroke-linejoin="round"/><path d="M298.0 279.0 L303.0 279.0 L308.0 277.0 L312.0 274.5 L311.0 268.1 L316.0 270.0 L321.0 271.3 L326.0 271.3 L331.0 269.4 L334.8 267.5 L338.0 265.0 L343.3 261.7 L345.8 264.2 L350.0 265.8 L353.3 268.3 L355.0 273.3 L355.8 278.3 L355.0 283.3 L352.5 286.7 L349.2 289.2 L345.8 291.7 L343.3 294.2 L343.3 298.0 L335.0 306.0 L320.0 312.0 L303.0 312.0 L302.0 295.0Z" fill="none" stroke="#fff" stroke-opacity="0.65" stroke-width="0.8" stroke-linejoin="round"/><path d="M427.0 167.0 L426.7 168.3 L433.3 172.5 L440.0 170.0 L445.0 175.0 L447.5 180.8 L445.0 188.3 L445.0 195.0 L448.3 201.7 L451.7 206.7 L452.5 211.7 L450.0 214.2 L445.8 216.7 L441.7 220.0 L438.3 224.2 L433.3 225.0 L428.3 227.5 L423.3 230.0 L419.2 232.5 L416.6 235.8 L415.4 239.5 L412.9 242.0 L416.0 245.1 L411.0 246.4 L407.3 247.6 L406.0 250.1 L407.9 253.3 L411.0 256.4 L414.8 258.9 L418.5 260.8 L423.5 262.0 L427.5 262.5 L429.2 263.3 L430.8 268.3 L434.2 272.5 L436.7 276.7 L438.3 280.8 L440.0 285.0 L440.8 288.3 L433.3 289.2 L426.7 288.3 L423.3 285.8 L420.8 284.2 L415.8 285.8 L411.7 287.5 L406.7 289.5 L402.5 292.0 L399.2 291.2 L395.8 289.5 L391.7 288.7 L385.0 289.7 L380.8 289.2 L379.2 285.8 L375.0 282.5 L370.8 280.0 L367.5 276.7 L366.7 271.7 L367.5 266.7 L370.8 265.0 L370.8 261.7 L366.7 260.8 L363.3 258.3 L362.9 255.1 L363.5 252.0 L365.4 248.9 L368.5 245.8 L371.0 242.0 L373.5 238.3 L377.3 235.8 L379.1 232.0 L380.4 227.0 L379.8 222.3 L385.8 223.0 L390.0 224.0 L395.0 225.0 L398.3 224.5 L400.3 222.8 L402.2 220.5 L402.5 218.3 L399.2 217.5 L397.5 213.3 L395.0 208.3 L392.5 203.3 L394.0 201.5 L398.0 200.5 L401.5 198.0 L403.0 194.5 L406.0 190.0 L410.0 187.5 L414.0 185.0 L418.5 182.5 L422.0 179.5 L424.5 175.5 L426.5 171.0Z" fill="none" stroke="#fff" stroke-opacity="0.65" stroke-width="0.8" stroke-linejoin="round"/><path d="M302.0 212.0 L310.0 212.3 L313.8 211.6 L317.5 212.3 L321.3 217.3 L323.1 221.0 L321.9 225.4 L322.5 227.9 L321.9 230.4 L320.0 233.5 L316.3 236.6 L312.5 239.1 L308.8 241.6 L306.3 242.9 L303.8 241.6 L300.0 239.8 L296.9 237.3 L295.6 234.1 L290.0 233.0Z" fill="none" stroke="#fff" stroke-opacity="0.65" stroke-width="0.8" stroke-linejoin="round"/><path d="M326.3 217.3 L330.0 214.8 L333.5 211.5 L337.3 209.8 L339.8 207.3 L342.9 206.0 L346.0 204.8 L349.0 203.5 L351.0 201.6 L354.8 200.4 L358.5 199.8 L361.6 198.5 L358.5 203.5 L356.6 208.5 L356.0 212.9 L357.9 216.0 L361.0 219.8 L362.3 223.5 L362.9 227.0 L365.4 230.8 L366.0 234.5 L362.9 236.4 L359.1 238.9 L356.0 240.8 L352.3 240.8 L348.5 242.0 L343.5 243.9 L339.8 245.8 L336.0 247.0 L331.3 244.8 L330.0 239.8 L327.5 236.0 L326.3 231.0 L327.0 227.0 L325.6 221.0Z" fill="none" stroke="#fff" stroke-opacity="0.65" stroke-width="0.8" stroke-linejoin="round"/><path d="M302.0 262.0 L303.0 258.5 L307.5 257.3 L312.5 255.4 L317.5 254.5 L323.8 254.1 L328.8 253.5 L333.8 252.3 L337.5 252.9 L342.5 254.1 L347.5 252.3 L352.5 250.4 L357.5 249.1 L361.3 251.0 L363.1 255.4 L363.3 258.3 L359.2 255.8 L353.3 255.8 L347.5 258.3 L343.3 261.7 L338.0 265.0 L334.8 267.5 L331.0 269.4 L326.0 271.3 L321.0 271.3 L316.0 270.0 L311.0 268.1 L306.0 270.0Z" fill="none" stroke="#fff" stroke-opacity="0.65" stroke-width="0.8" stroke-linejoin="round"/><path d="M336.9 181.2 L336.1 183.3 L336.1 183.4 L336.1 183.4 L336.1 183.5 L336.1 183.5 L336.1 183.6 L336.5 186.0 L336.1 189.1 L334.6 190.6 L332.5 191.9 L332.5 191.9 L332.5 191.9 L332.4 192.0 L332.4 192.0 L332.4 192.0 L332.3 192.1 L332.3 192.1 L332.3 192.2 L332.3 192.2 L331.9 194.7 L331.1 197.5 L329.1 199.9 L329.1 199.9 L329.1 199.9 L329.0 200.0 L327.8 202.5 L327.8 202.5 L327.8 202.6 L327.8 202.6 L327.8 202.7 L327.8 202.7 L327.8 205.2 L327.8 205.2 L327.8 205.3 L327.8 205.3 L327.8 205.4 L327.9 205.4 L327.9 205.5 L327.9 205.5 L327.9 205.6 L328.0 205.6 L328.0 205.6 L328.1 205.6 L328.1 205.7 L328.2 205.7 L328.2 205.7 L330.2 206.1 L330.3 206.1 L330.3 206.1 L330.4 206.1 L333.8 205.7 L333.8 205.7 L337.1 205.3 L337.1 205.3 L340.2 204.8 L341.7 206.0 L341.7 206.0 L341.8 206.0 L341.8 206.1 L341.9 206.1 L341.9 206.1 L342.0 206.1 L342.0 206.1 L342.1 206.1 L342.1 206.1 L342.2 206.1 L344.6 205.3 L347.1 204.8 L347.1 204.8 L347.2 204.8 L347.2 204.7 L347.3 204.7 L349.0 203.5 L349.0 203.5 L349.1 203.4 L349.1 203.4 L349.1 203.4 L349.1 203.3 L349.2 203.3 L349.2 203.2 L349.2 203.2 L349.2 203.1 L349.2 203.1 L349.2 203.0 L349.2 203.0 L349.2 202.9 L349.2 202.9 L349.1 202.9 L349.1 202.8 L349.1 202.8 L349.0 202.7 L349.0 202.7 L347.4 201.4 L346.4 200.1 L347.5 197.9 L347.5 197.9 L347.5 197.8 L347.5 197.8 L347.9 194.4 L347.9 194.3 L347.9 194.3 L347.9 194.2 L347.9 194.2 L347.9 194.1 L347.2 192.3 L348.7 191.9 L350.6 192.8 L350.7 192.8 L350.7 192.8 L350.7 192.8 L350.8 192.8 L353.7 192.8 L353.7 192.8 L353.8 192.8 L353.8 192.8 L353.9 192.8 L353.9 192.7 L356.4 191.4 L356.5 191.4 L356.5 191.4 L356.6 191.3 L358.2 189.6 L358.2 189.6 L358.2 189.6 L358.3 189.5 L358.3 189.5 L358.3 189.4 L358.7 187.6 L360.1 186.4 L362.6 185.7 L362.6 185.7 L362.6 185.6 L362.7 185.6 L362.7 185.6 L362.8 185.6 L362.8 185.5 L364.5 183.4 L364.5 183.4 L364.5 183.3 L364.6 183.3 L364.6 183.2 L364.6 183.2 L364.6 183.1 L364.6 183.1 L364.6 183.0 L364.6 183.0 L364.2 181.3 L364.2 181.2 L364.2 181.2 L364.1 181.1 L364.1 181.1 L364.1 181.1 L364.0 181.0 L364.0 181.0 L364.0 181.0 L363.9 180.9 L363.9 180.9 L363.8 180.9 L363.8 180.9 L360.4 180.5 L360.3 180.5 L360.3 180.5 L360.2 180.5 L360.2 180.5 L357.4 181.3 L354.6 180.9 L352.2 180.1 L352.1 180.1 L352.1 180.1 L352.0 180.1 L352.0 180.1 L351.9 180.1 L349.5 180.5 L345.4 179.7 L345.3 179.7 L345.3 179.7 L345.2 179.7 L341.6 180.1 L340.4 179.7 L340.4 179.7 L340.4 179.7 L340.3 179.7 L340.3 179.7 L340.2 179.7 L340.2 179.7 L340.1 179.7 L337.2 180.9 L337.2 181.0 L337.1 181.0 L337.1 181.0 L337.0 181.1 L337.0 181.1 L337.0 181.1 L337.0 181.2Z" fill="none" stroke="#fff" stroke-opacity="0.65" stroke-width="0.8" stroke-linejoin="round"/><path d="M356.7 193.9 L356.7 196.0 L356.7 196.0 L356.7 196.1 L356.7 196.1 L356.7 196.1 L356.7 196.1 L356.7 196.2 L356.8 196.2 L358.1 197.9 L358.1 197.9 L358.1 197.9 L358.1 197.9 L358.2 198.0 L358.2 198.0 L358.2 198.0 L358.2 198.0 L358.3 198.0 L358.3 198.0 L358.3 198.0 L358.4 198.0 L360.4 197.6 L360.4 197.6 L360.4 197.6 L360.4 197.6 L360.5 197.5 L360.5 197.5 L360.5 197.5 L360.5 197.5 L362.2 195.4 L362.3 195.4 L362.3 195.3 L362.3 195.3 L362.3 195.3 L362.3 195.3 L362.3 195.2 L362.3 195.2 L362.3 195.2 L362.3 195.1 L361.9 193.4 L361.9 193.4 L361.9 193.4 L361.9 193.3 L361.8 193.3 L361.8 193.3 L361.8 193.3 L361.8 193.3 L361.7 193.2 L361.7 193.2 L361.7 193.2 L359.2 192.4 L359.2 192.4 L359.1 192.4 L359.1 192.4 L359.1 192.4 L359.0 192.4 L359.0 192.4 L359.0 192.4 L359.0 192.4 L356.9 193.6 L356.8 193.7 L356.8 193.7 L356.8 193.7 L356.8 193.7 L356.7 193.7 L356.7 193.8 L356.7 193.8 L356.7 193.8 L356.7 193.8 L356.7 193.9Z" fill="none" stroke="#fff" stroke-opacity="0.65" stroke-width="0.8" stroke-linejoin="round"/><path d="M343.1 261.9 L345.6 264.4 L345.6 264.4 L345.6 264.5 L345.7 264.5 L345.7 264.5 L349.9 266.1 L353.0 268.5 L354.7 273.4 L355.5 278.3 L354.7 283.2 L352.3 286.5 L349.0 289.0 L345.6 291.5 L345.6 291.5 L345.6 291.5 L343.1 294.0 L343.1 294.0 L343.1 294.0 L343.0 294.1 L343.0 294.1 L343.0 294.1 L343.0 294.1 L343.0 294.2 L343.0 294.2 L343.0 297.0 L343.0 297.0 L343.0 297.1 L343.0 297.1 L343.0 297.1 L343.0 297.1 L343.0 297.2 L343.1 297.2 L343.1 297.2 L354.8 309.2 L354.8 309.2 L354.8 309.2 L354.9 309.3 L354.9 309.3 L354.9 309.3 L354.9 309.3 L355.0 309.3 L355.0 309.3 L355.0 309.3 L355.1 309.3 L355.1 309.3 L355.1 309.3 L355.1 309.3 L355.2 309.2 L362.6 304.3 L365.0 303.3 L371.6 306.3 L371.6 306.3 L371.6 306.3 L371.7 306.3 L371.7 306.3 L371.7 306.3 L371.8 306.3 L371.8 306.3 L371.8 306.3 L371.8 306.3 L371.9 306.2 L371.9 306.2 L376.0 302.7 L376.0 302.7 L376.0 302.7 L376.1 302.7 L376.1 302.6 L376.1 302.6 L377.8 298.4 L377.8 298.4 L379.5 293.4 L381.1 289.3 L381.1 289.3 L381.1 289.3 L381.1 289.2 L381.1 289.2 L381.1 289.2 L381.1 289.1 L381.1 289.1 L381.1 289.1 L379.5 285.7 L379.5 285.6 L379.4 285.6 L379.4 285.6 L379.4 285.6 L379.4 285.6 L375.2 282.3 L375.2 282.2 L371.0 279.8 L367.8 276.6 L367.0 271.7 L367.8 266.9 L370.9 265.3 L371.0 265.3 L371.0 265.2 L371.0 265.2 L371.0 265.2 L371.0 265.2 L371.1 265.1 L371.1 265.1 L371.1 265.1 L371.1 265.1 L371.1 265.0 L371.1 265.0 L371.1 261.7 L371.1 261.7 L371.1 261.6 L371.1 261.6 L371.1 261.6 L371.1 261.6 L371.1 261.5 L371.0 261.5 L371.0 261.5 L371.0 261.5 L371.0 261.5 L370.9 261.4 L370.9 261.4 L370.9 261.4 L370.9 261.4 L366.8 260.5 L363.5 258.1 L363.5 258.0 L359.4 255.5 L359.3 255.5 L359.3 255.5 L359.3 255.5 L359.3 255.5 L359.2 255.5 L359.2 255.5 L353.3 255.5 L353.3 255.5 L353.2 255.5 L353.2 255.5 L353.2 255.5 L347.4 258.0 L347.4 258.0 L347.3 258.1 L347.3 258.1 L343.1 261.5 L343.1 261.5 L343.1 261.5 L343.1 261.5 L343.0 261.6 L343.0 261.6 L343.0 261.6 L343.0 261.6 L343.0 261.7 L343.0 261.7 L343.0 261.7 L343.0 261.8 L343.0 261.8 L343.0 261.8 L343.0 261.8 L343.1 261.9 L343.1 261.9Z" fill="none" stroke="#fff" stroke-opacity="0.65" stroke-width="0.8" stroke-linejoin="round"/><path d="M429.2 263.3 L430.8 268.3 L434.2 272.5 L436.7 276.7 L438.3 280.8 L440.0 285.0 L440.8 288.3 L433.3 289.2 L426.7 288.3 L427.5 293.3 L428.3 298.3 L430.0 303.3 L432.5 307.5 L430.8 310.8 L427.5 314.2 L426.7 315.0 L431.7 316.7 L437.5 320.0 L441.7 324.2 L443.3 325.8 L448.0 328.0 L460.0 315.0 L460.0 285.0 L445.0 265.0 L433.0 262.0Z" fill="none" stroke="#fff" stroke-opacity="0.65" stroke-width="0.8" stroke-linejoin="round"/><g fill="none" stroke="#fff" stroke-width="0.9" stroke-linejoin="round" stroke-linecap="round" stroke-opacity="0.75"><path d="M422.6 98.7 L424.4 103.1 L427.5 108.3 L429.2 113.3 L431.7 118.3 L430.0 121.7 L426.7 126.7 L424.2 131.7 L423.1 132.5"/><path d="M465.0 95.8 L465.8 100.8 L468.3 105.8 L470.0 110.8 L468.3 115.0 L466.7 118.3 L465.8 120.8"/><path d="M465.8 120.8 L461.7 118.3 L458.3 116.7 L455.0 119.2 L451.7 122.5 L448.3 125.8 L444.2 128.3 L440.0 130.0 L435.8 129.3 L431.7 130.2 L428.3 131.8 L425.0 133.0"/><path d="M465.8 120.8 L469.2 122.5 L472.5 126.7 L474.2 131.7 L476.7 135.0 L480.0 137.5 L484.2 140.8"/><path d="M415.8 129.0 L420.0 130.2 L423.1 132.5 L427.5 135.0 L430.6 138.1 L433.1 141.9 L435.0 145.6 L435.6 149.4 L438.1 151.3"/><path d="M448.3 125.8 L450.0 131.3 L448.1 136.3 L448.1 140.6 L450.0 145.0 L452.5 147.5 L457.5 148.5 L462.5 150.0 L466.3 153.1 L468.8 155.6 L473.3 156.7 L477.5 155.8 L480.0 152.5 L485.0 150.8 L490.0 149.2"/><path d="M445.0 175.0 L448.3 175.0 L453.3 174.2 L460.0 176.7 L465.0 180.0 L468.3 180.8"/><path d="M468.3 180.8 L471.7 175.0 L476.7 172.5 L483.3 173.3 L490.8 171.7"/><path d="M468.3 180.8 L467.5 185.8 L464.2 190.0 L463.3 195.8 L465.0 201.7 L470.0 206.7 L475.0 210.0 L481.7 211.7 L488.3 213.3 L490.0 217.5 L495.8 219.2"/><path d="M465.0 201.7 L462.5 204.2 L456.7 204.2 L451.7 203.5 L448.3 201.7"/><path d="M442.5 221.8 L445.8 222.7 L448.3 225.2 L450.8 228.5 L450.0 231.8 L446.7 235.2 L445.0 238.5 L446.7 241.8"/><path d="M408.3 327.5 L409.2 324.2 L410.0 320.8 L412.5 318.3 L416.7 316.7 L421.7 315.8 L426.7 315.0"/><path d="M370.6 264.8 L375.0 265.4 L380.0 265.2 L385.0 264.6 L389.4 263.8 L392.5 263.1 L396.3 265.0 L398.1 268.1 L398.8 270.6 L396.3 273.1 L393.1 275.0 L390.6 277.5 L390.0 281.3 L391.3 285.0 L391.9 288.8"/><path d="M389.4 263.8 L390.0 260.0 L390.6 256.3 L394.4 254.8 L398.8 254.4 L402.5 253.1 L406.0 251.5"/><path d="M296.5 231.5 L300.7 229.8 L304.8 230.3 L309.0 231.5 L312.3 230.7 L315.7 229.0 L319.0 228.2 L322.0 227.5"/><path d="M367.3 192.3 L364.8 198.5 L364.1 204.8 L364.8 211.0 L369.8 212.3 L376.0 211.0 L378.5 204.8 L379.8 199.8 L384.8 198.5 L388.5 201.0 L392.5 203.3"/><path d="M376.0 211.0 L379.8 214.8 L382.3 218.5 L384.8 221.6"/><path d="M340.8 180.4 L341.4 183.3 L342.6 186.6 L344.3 189.8 L346.3 192.0"/><path d="M380.0 225.8 L381.7 229.2 L380.8 233.3 L382.5 236.7 L386.7 238.0 L391.7 237.5 L396.7 236.7 L401.7 237.0 L406.7 237.5 L409.2 235.8"/><path d="M402.5 218.3 L404.2 222.5 L405.8 226.7 L407.5 231.7 L410.0 236.7 L413.3 240.0"/><path d="M350.0 204.8 L348.1 209.8 L345.6 216.6 L346.3 221.0 L348.1 224.8 L346.3 228.5 L347.5 232.3 L350.0 236.0 L352.5 239.1 L355.0 241.2"/><path d="M331.5 253.0 L331.6 256.3 L332.0 262.0 L332.3 266.9"/></g></g><g fill="none" stroke="#fff" stroke-linejoin="round" stroke-linecap="round"><path d="M309.5 266.8 L311.0 268.1 L316.0 270.0 L321.0 271.3 L326.0 271.3 L331.0 269.4 L334.8 267.5 L337.0 265.8" stroke-width="2.2"/><path d="M367.5 190.6 L371.8 191.8 L376.8 193.4 L381.8 194.7" stroke-width="2.8"/><path d="M381.8 194.7 L386.0 196.8 L389.3 199.7" stroke-width="2.3"/><path d="M389.3 199.7 L391.8 201.8 L395.2 201.3 L399.3 200.1 L401.8 198.0 L403.1 194.7 L403.9 191.8" stroke-width="1.6"/><path d="M404.6 190.6 L406.6 189.2" stroke-width="3.4"/><path d="M406.6 189.2 L409.3 187.2 L414.3 183.8 L418.5 181.5 L422.0 178.8 L424.5 175.5 L426.5 171.0 L427.0 166.5 L426.3 162.5 L424.0 158.5" stroke-width="1.4"/></g><path d="M343.6 261.7 L340.5 264.0 L337.5 267.0" fill="none" stroke="#c9562a" stroke-width="0.7" stroke-linecap="round"/><path d="M404.0 150.0 L407.3 150.8 L408.5 153.3 L411.4 155.4 L415.2 156.3 L421.0 156.0 L425.2 155.8 L429.3 155.0 L432.7 153.8 L436.0 152.1 L437.7 151.3 L439.3 151.7 L439.8 153.3 L437.7 154.8 L433.5 156.0 L429.3 156.8 L425.2 157.9 L423.5 160.2 L417.7 160.6 L412.7 159.8 L408.5 157.9 L404.0 159.0Z" fill="#fff"/><path d="M450.6 55.0 L450.9 58.5 L450.7 62.3 L451.6 65.4 L454.8 66.8 L456.8 66.6 L458.5 65.4 L459.1 62.9 L457.9 59.8 L455.0 58.0 L454.0 55.0Z" fill="#fff"/><path d="M274.8 256.9 L277.9 254.4 L282.3 253.1 L286.0 255.0 L289.8 258.1 L293.5 260.0 L297.3 261.9 L301.0 263.8 L304.1 265.6 L307.3 268.1 L310.4 270.6 L312.3 272.5 L311.0 274.4 L308.5 275.6 L305.4 275.6 L302.3 274.4 L298.5 273.1 L294.8 271.9 L291.6 270.0 L289.1 267.5 L287.3 264.4 L286.0 261.3 L284.1 258.8 L281.0 258.1 L277.9 258.8 L275.4 258.8Z" fill="#fec596" stroke="#fec596" stroke-width="0" stroke-linejoin="round"/><path d="M260.4 270.5 L261.4 268.0 L264.4 266.5 L268.8 266.0 L273.8 266.0 L277.8 266.5 L280.8 267.5 L282.8 269.5 L285.3 272.0 L288.7 273.4 L291.2 274.9 L291.7 276.9 L289.7 278.9 L286.7 279.9 L283.8 280.4 L280.8 278.9 L277.8 277.9 L276.3 275.4 L274.8 272.9 L272.3 272.0 L269.8 270.5 L267.8 271.5 L265.4 272.9 L262.9 273.9 L260.9 272.4Z" fill="#f79e6b" stroke="#f79e6b" stroke-width="0.6" stroke-linejoin="round"/><path d="M293.2 277.4 L295.7 276.9 L298.7 277.9 L300.7 279.4 L299.7 280.4 L296.7 280.4 L294.2 279.4Z" fill="#f79e6b" stroke="#f79e6b" stroke-width="0.5" stroke-linejoin="round"/><path d="M284.3 284.9 L286.7 282.9 L290.2 281.9 L293.7 281.4 L297.2 281.9 L299.7 282.9 L301.2 285.9 L301.7 289.9 L302.2 293.8 L300.7 295.3 L299.2 293.8 L297.7 290.9 L294.7 289.4 L291.7 288.4 L288.7 287.4 L286.2 286.4Z" fill="#f79e6b" stroke="#f79e6b" stroke-width="0.8" stroke-linejoin="round"/><path d="M257.9 284.9 L259.9 283.4 L263.9 283.4 L267.8 282.9 L271.8 282.9 L274.8 283.9 L276.3 286.4 L275.8 288.4 L273.3 288.9 L269.8 288.9 L266.8 289.4 L264.4 288.9 L262.4 289.4 L261.4 287.4 L259.4 286.9Z" fill="#f79e6b" stroke="#f79e6b" stroke-width="0.9" stroke-linejoin="round"/><path d="M241.5 291.4 L244.5 288.4 L247.9 285.9 L251.9 284.4 L255.4 284.9 L257.4 287.4 L259.4 290.4 L260.9 293.3 L261.4 296.8 L260.4 299.3 L257.4 301.3 L254.4 302.3 L251.9 301.8 L248.9 299.3 L246.0 296.3 L243.5 293.8Z" fill="#f79e6b" stroke="#f79e6b" stroke-width="0.9" stroke-linejoin="round"/><path d="M263.9 291.3 L267.1 290.3 L271.4 290.8 L275.6 290.3 L278.8 291.3 L282.0 292.4 L285.2 294.0 L287.9 296.6 L290.0 299.3 L292.1 302.0 L294.8 303.6 L298.0 303.9 L301.2 303.0 L302.8 302.0 L304.4 304.6 L305.4 309.4 L302.3 307.8 L299.1 306.8 L295.9 306.2 L292.7 305.7 L290.0 304.1 L287.3 302.0 L284.7 300.4 L282.0 300.9 L279.9 302.5 L277.8 304.6 L274.6 306.8 L271.9 308.4 L269.3 307.3 L266.6 305.7 L263.9 303.6 L262.9 299.8 L262.9 295.6Z" fill="#f79e6b" stroke="#f79e6b" stroke-width="1.0" stroke-linejoin="round"/><path d="M236.8 311.5 L240.5 309.9 L244.8 307.8 L248.0 307.3 L251.2 308.9 L254.9 310.5 L258.6 312.1 L262.9 313.7 L267.1 314.7 L270.3 315.3 L274.6 314.7 L277.8 313.1 L281.0 311.0 L282.6 307.8 L284.7 307.8 L286.3 310.5 L289.5 312.1 L293.7 312.6 L297.5 312.1 L300.1 311.5 L301.7 313.7 L300.1 316.9 L297.5 319.5 L294.3 321.7 L291.1 323.3 L287.3 324.9 L283.1 326.4 L279.9 328.0 L276.7 329.6 L272.4 330.2 L269.8 329.1 L269.3 325.9 L266.1 323.8 L261.8 322.2 L257.5 320.6 L253.3 320.1 L249.0 320.6 L248.0 323.3 L246.9 325.9 L243.7 326.2 L240.5 324.8 L237.9 322.2 L236.8 317.9 L236.8 314.7Z" fill="#fec596" stroke="#fec596" stroke-width="0" stroke-linejoin="round"/><path d="M339.5 107.6 L339.0 104.5 L340.1 100.8 L341.6 97.2 L343.7 93.5 L345.8 89.9 L347.9 86.8 L350.0 84.7 L352.0 86.3 L353.3 89.4 L353.6 93.0 L353.1 96.1 L351.5 99.3 L349.4 102.4 L346.8 105.0 L344.2 107.1 L341.6 108.1Z" fill="#fec596" stroke="#fec596" stroke-width="0" stroke-linejoin="round"/><path d="M350.0 80.5 L353.0 77.0 L358.0 73.5 L363.0 70.5 L368.3 68.0 L368.8 69.5 L364.0 72.5 L359.0 75.5 L354.5 79.0 L351.0 81.5Z" fill="#e84e13" stroke="#e84e13" stroke-width="0.3" stroke-linejoin="round"/><path d="M373.5 61.5 L375.8 58.3 L383.3 55.0 L391.7 52.5 L398.3 50.8 L403.5 50.2 L403.5 51.7 L396.7 53.5 L390.0 55.3 L385.0 57.7 L380.0 60.3 L375.0 62.8Z" fill="#e84e13" stroke="#e84e13" stroke-width="0.3" stroke-linejoin="round"/><path d="M408.5 50.0 L409.2 48.5 L412.5 47.3 L416.7 48.1 L423.3 48.5 L430.0 47.8 L435.0 47.3 L435.2 48.5 L430.0 49.4 L423.3 50.3 L418.3 51.0 L415.0 52.7 L411.7 53.2 L408.9 51.8Z" fill="#e84e13" stroke="#e84e13" stroke-width="0" stroke-linejoin="round"/><path d="M448.1 46.0 L449.1 44.1 L452.3 43.3 L457.3 42.9 L462.3 42.0 L466.6 41.3 L467.0 42.3 L462.9 43.5 L457.9 45.0 L452.9 46.6 L449.1 47.3Z" fill="#e84e13" stroke="#e84e13" stroke-width="0" stroke-linejoin="round"/><path d="M335.7 110.2 L337.0 110.0 L337.3 111.2 L336.0 111.6Z" fill="#f79e6b" stroke="#f79e6b" stroke-width="0" stroke-linejoin="round"/><path d="M473.6 38.0 L474.8 37.2 L476.0 38.0 L475.6 39.6 L474.2 39.8Z" fill="#84001f" stroke="#84001f" stroke-width="0" stroke-linejoin="round"/><path d="M482.2 38.0 L484.2 37.8 L484.2 38.9 L482.2 39.0Z" fill="#fee1ca" stroke="#fee1ca" stroke-width="0" stroke-linejoin="round"/><path d="M371.0 69.4 L372.2 69.3 L372.3 70.5 L371.1 70.6Z" fill="#f3b694" stroke="#f3b694" stroke-width="0" stroke-linejoin="round"/><path d="M342.0 304.6 L343.2 304.4 L343.4 305.4 L342.2 305.7Z" fill="#e84e13" stroke="#e84e13" stroke-width="0" stroke-linejoin="round"/></svg>
<div class="title">Economische ontwikkeling 2020 per regio</div>
<div class="sw" style="top:332px;background:#84001f"></div><div class="lt" style="top:328.6px">lager dan -5%</div><div class="sw" style="top:348px;background:#c71f27"></div><div class="lt" style="top:344.6px">-5%</div><div class="sw" style="top:364px;background:#e84e13"></div><div class="lt" style="top:360.6px">-4%</div><div class="sw" style="top:380px;background:#f79e6b"></div><div class="lt" style="top:376.6px">-3%</div><div class="sw" style="top:396px;background:#fec596"></div><div class="lt" style="top:392.6px">-2</div><div class="sw" style="top:412px;background:#fee1ca"></div><div class="lt" style="top:408.6px">-1%</div>
<div class="tip"><div class="h"><i></i>BBP</div><div class="b">Alkmaar en omgeving: <b>-4%</b></div></div>
</body></html>
